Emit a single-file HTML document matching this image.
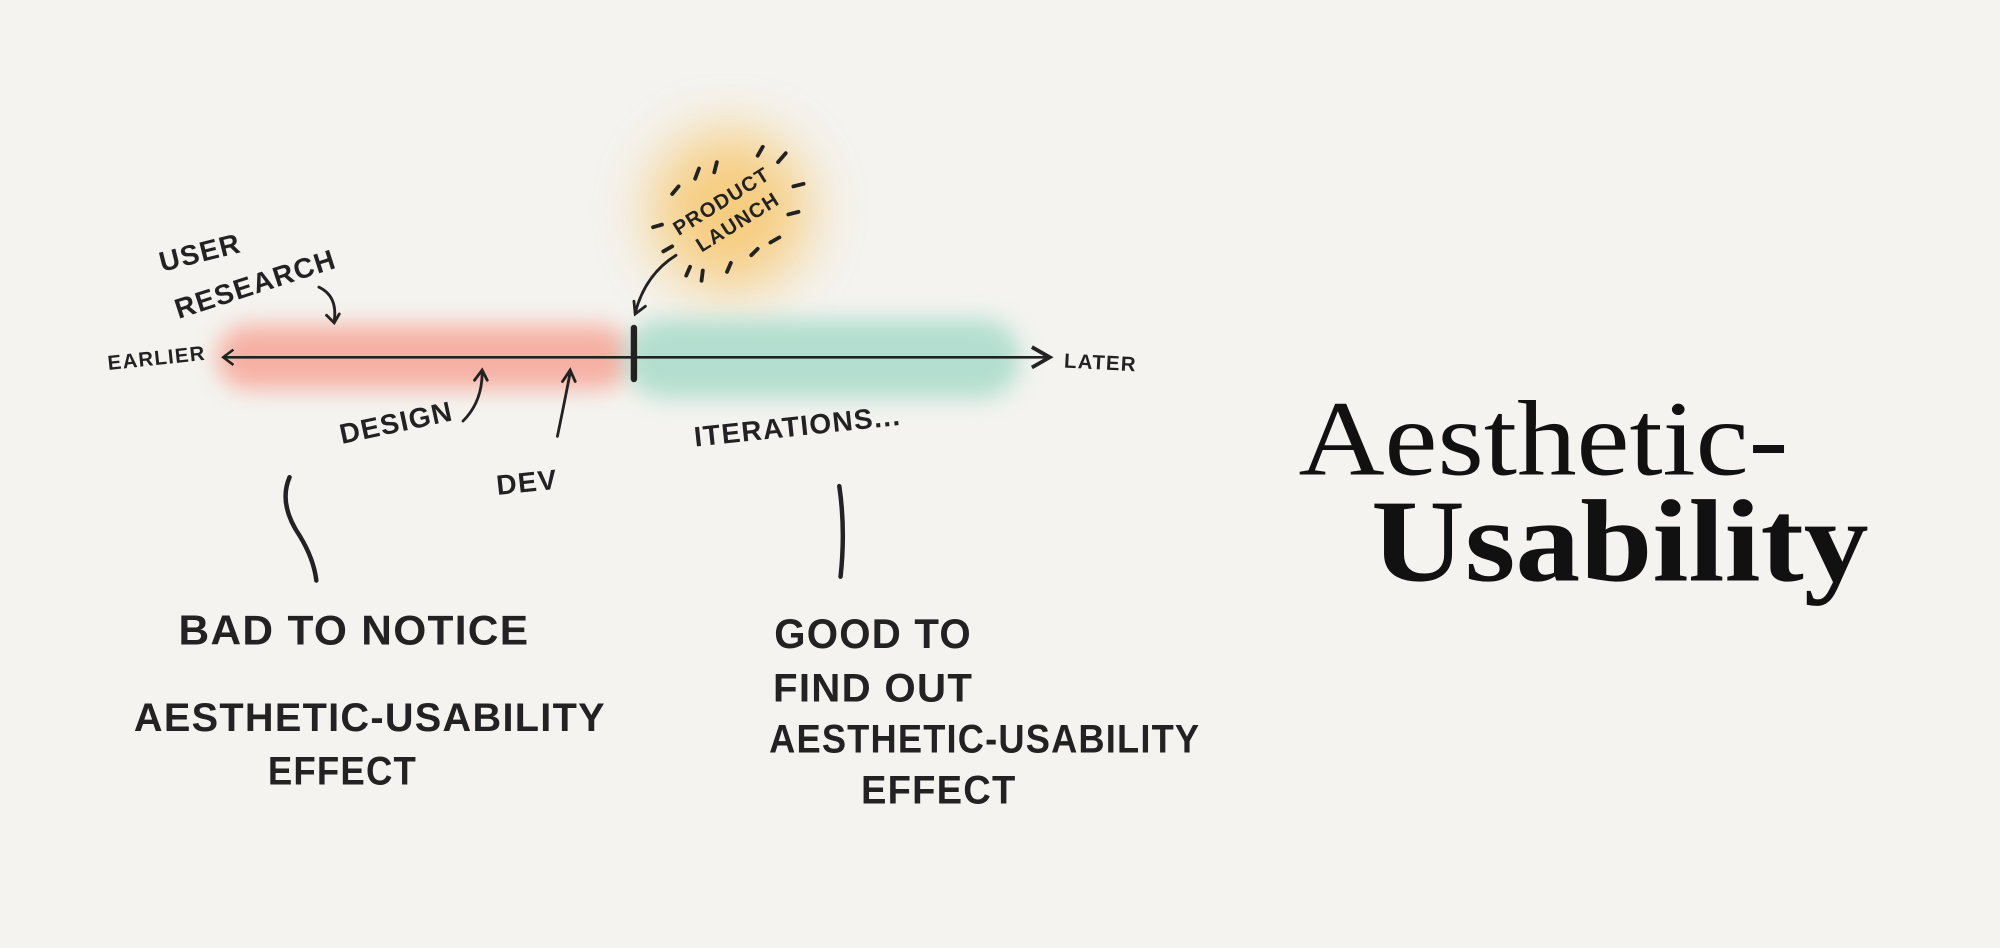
<!DOCTYPE html>
<html><head><meta charset="utf-8"><style>
html,body{margin:0;padding:0;background:#f4f3ef;}
svg{display:block}
.h{font-family:"Liberation Sans",sans-serif;font-weight:bold;fill:#222;letter-spacing:1px}
</style></head><body>
<svg width="2000" height="948" viewBox="0 0 1568 743" xmlns="http://www.w3.org/2000/svg">
<defs>
<filter id="b" x="-50%" y="-50%" width="200%" height="200%"><feGaussianBlur stdDeviation="9"/></filter>
<filter id="b2" x="-50%" y="-50%" width="200%" height="200%"><feGaussianBlur stdDeviation="22"/></filter>
<marker id="ah" markerWidth="10" markerHeight="10" refX="8" refY="5" orient="auto"><path d="M1,1 L8,5 L1,9" fill="none" stroke="#222" stroke-width="1.5"/></marker>
</defs>
<rect width="1568" height="743" fill="#f4f3ef"/>
<circle cx="572" cy="165" r="62" fill="#f7c974" filter="url(#b2)" opacity="0.9"/>
<rect x="170" y="255" width="325" height="50" rx="25" fill="#f7a596" filter="url(#b)" opacity="0.85"/>
<rect x="490" y="250" width="310" height="62" rx="30" fill="#a8dccb" filter="url(#b)" opacity="0.85"/>
<line x1="175" y1="280" x2="823" y2="280" stroke="#222" stroke-width="2" marker-end="url(#ah)"/>
<path d="M183,274 L175,280 L183,286" fill="none" stroke="#222" stroke-width="2"/>
<line x1="497" y1="257" x2="497" y2="297" stroke="#222" stroke-width="5" stroke-linecap="round"/>
<g fill="none" stroke="#222" stroke-width="2.2" stroke-linecap="round">
<path d="M250,225 Q265,232 262,252"/><path d="M256,247 L262,253 L266,246"/>
<path d="M363,330 Q378,315 378,292"/><path d="M372,298 L378,290 L382,298"/>
<path d="M437,342 Q442,318 447,292"/><path d="M441,299 L447,290 L451,299"/>
<path d="M530,200 Q506,215 498,245"/><path d="M497,236 L498,246 L506,240"/>
</g>
<g stroke="#222" stroke-width="3" stroke-linecap="round">
<line x1="527" y1="152" x2="532" y2="146"/><line x1="512" y1="178" x2="519" y2="176"/>
<line x1="520" y1="197" x2="527" y2="193"/><line x1="538" y1="216" x2="541" y2="209"/>
<line x1="550" y1="220" x2="551" y2="212"/><line x1="570" y1="213" x2="573" y2="206"/>
<line x1="589" y1="200" x2="594" y2="195"/><line x1="604" y1="190" x2="611" y2="186"/>
<line x1="618" y1="168" x2="626" y2="166"/><line x1="622" y1="146" x2="630" y2="144"/>
<line x1="610" y1="127" x2="616" y2="120"/><line x1="545" y1="140" x2="548" y2="132"/>
<line x1="560" y1="135" x2="562" y2="127"/><line x1="594" y1="122" x2="598" y2="115"/>
</g>
<g fill="none" stroke="#222" stroke-width="3.5" stroke-linecap="round">
<path d="M227,374 Q218,395 235,420 Q246,438 248,455"/>
<path d="M658,381 Q663,415 659,452"/>
</g>
<text class="h" x="85" y="290" font-size="16" transform="rotate(-6 85 290)">EARLIER</text>
<text class="h" x="834" y="288" font-size="16" transform="rotate(3 834 288)">LATER</text>
<text class="h" x="127" y="213" font-size="22" transform="rotate(-14 127 213)">USER</text>
<text class="h" x="140" y="250" font-size="22" transform="rotate(-18 140 250)">RESEARCH</text>
<text class="h" x="268" y="348" font-size="22" transform="rotate(-12 268 348)">DESIGN</text>
<text class="h" x="390" y="388" font-size="22" transform="rotate(-6 390 388)">DEV</text>
<text class="h" x="545" y="350" font-size="22" transform="rotate(-6 545 350)">ITERATIONS...</text>
<text class="h" x="532" y="185" font-size="16" transform="rotate(-32 532 185)">PRODUCT</text>
<text class="h" x="550" y="198" font-size="16" transform="rotate(-32 550 198)">LAUNCH</text>
<text class="h" x="140" y="505" font-size="33" textLength="275" lengthAdjust="spacingAndGlyphs">BAD TO NOTICE</text>
<text class="h" x="105" y="573" font-size="31" textLength="370" lengthAdjust="spacingAndGlyphs">AESTHETIC-USABILITY</text>
<text class="h" x="210" y="615" font-size="31" textLength="117" lengthAdjust="spacingAndGlyphs">EFFECT</text>
<text class="h" x="607" y="508" font-size="33" textLength="155" lengthAdjust="spacingAndGlyphs">GOOD TO</text>
<text class="h" x="606" y="550" font-size="31" textLength="157" lengthAdjust="spacingAndGlyphs">FIND OUT</text>
<text class="h" x="603" y="590" font-size="31" textLength="338" lengthAdjust="spacingAndGlyphs">AESTHETIC-USABILITY</text>
<text class="h" x="675" y="630" font-size="31" textLength="122" lengthAdjust="spacingAndGlyphs">EFFECT</text>
<text x="1018" y="372" font-family="Liberation Serif,serif" font-size="84" fill="#111" textLength="384" lengthAdjust="spacingAndGlyphs">Aesthetic-</text>
<text x="1075" y="455" font-family="Liberation Serif,serif" font-weight="bold" font-size="92" fill="#111" textLength="390" lengthAdjust="spacingAndGlyphs">Usability</text>
</svg>
</body></html>
